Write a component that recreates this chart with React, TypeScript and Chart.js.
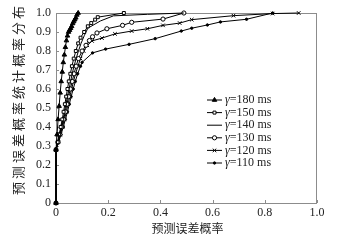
import React, { useEffect, useRef } from 'react';
import { Chart, registerables } from 'chart.js';
import { drawPoint } from 'chart.js/helpers';

Chart.register(...registerables);

const seriesNames = ['180', '150', '140', '130', '120', '110'];

const x180 = [0, 0, 0.004, 0.008, 0.012, 0.016, 0.02, 0.024, 0.028, 0.032, 0.036, 0.04, 0.044, 0.048, 0.052, 0.056, 0.06, 0.064, 0.068, 0.072, 0.076, 0.08, 0.085];
const y180 = [0, 0.28, 0.36, 0.44, 0.51, 0.58, 0.64, 0.69, 0.74, 0.78, 0.82, 0.855, 0.88, 0.9, 0.91, 0.92, 0.93, 0.945, 0.955, 0.965, 0.975, 0.99, 1.0];

const x150 = [0, 0, 0.006, 0.012, 0.018, 0.024, 0.029, 0.034, 0.039, 0.044, 0.049, 0.055, 0.061, 0.068, 0.076, 0.085, 0.094, 0.108, 0.122, 0.135, 0.15, 0.16, 0.26];
const y150 = [0, 0.28, 0.32, 0.36, 0.4, 0.44, 0.48, 0.52, 0.56, 0.6, 0.64, 0.68, 0.72, 0.76, 0.8, 0.84, 0.87, 0.9, 0.93, 0.947, 0.965, 0.978, 1.0];

const x140 = [0, 0, 0.007, 0.014, 0.02, 0.027, 0.033, 0.038, 0.044, 0.05, 0.056, 0.062, 0.069, 0.077, 0.086, 0.096, 0.108, 0.122, 0.17, 0.22, 0.35, 0.49];
const y140 = [0, 0.28, 0.32, 0.36, 0.4, 0.44, 0.48, 0.52, 0.56, 0.6, 0.64, 0.68, 0.72, 0.76, 0.8, 0.84, 0.88, 0.92, 0.958, 0.985, 0.993, 1.0];

const x130 = [0, 0, 0.008, 0.015, 0.022, 0.029, 0.036, 0.042, 0.048, 0.055, 0.062, 0.069, 0.077, 0.086, 0.1, 0.115, 0.128, 0.14, 0.157, 0.195, 0.255, 0.29, 0.41, 0.49];
const y130 = [0, 0.28, 0.32, 0.36, 0.4, 0.44, 0.48, 0.52, 0.56, 0.6, 0.64, 0.68, 0.72, 0.76, 0.8, 0.83, 0.855, 0.875, 0.895, 0.917, 0.935, 0.951, 0.968, 1.0];

const x120 = [0, 0, 0.009, 0.017, 0.025, 0.032, 0.04, 0.046, 0.053, 0.06, 0.067, 0.075, 0.084, 0.094, 0.106, 0.12, 0.138, 0.176, 0.226, 0.29, 0.35, 0.41, 0.474, 0.52, 0.68, 0.83, 0.93];
const y120 = [0, 0.28, 0.32, 0.36, 0.4, 0.44, 0.48, 0.52, 0.56, 0.6, 0.64, 0.68, 0.72, 0.76, 0.8, 0.83, 0.853, 0.868, 0.89, 0.905, 0.917, 0.935, 0.947, 0.965, 0.986, 0.997, 1.0];

const x110 = [0, 0, 0.01, 0.019, 0.028, 0.036, 0.044, 0.051, 0.058, 0.066, 0.074, 0.083, 0.094, 0.1, 0.14, 0.19, 0.28, 0.38, 0.48, 0.52, 0.58, 0.63, 0.73, 0.83];
const y110 = [0, 0.28, 0.32, 0.36, 0.4, 0.44, 0.48, 0.52, 0.56, 0.6, 0.64, 0.68, 0.72, 0.74, 0.79, 0.81, 0.835, 0.865, 0.905, 0.92, 0.937, 0.953, 0.967, 1.0];

const xTickLabels = ['0', '0.2', '0.4', '0.6', '0.8', '1.0'];
const yTickLabels = ['0', '0.1', '0.2', '0.3', '0.4', '0.5', '0.6', '0.7', '0.8', '0.9', '1.0'];

const xTitle = '预测误差概率';
const yTitle = '预测误差概率统计概率分布';

const seriesX = [x180, x150, x140, x130, x120, x110];
const seriesY = [y180, y150, y140, y130, y120, y110];

const markerStyles = [
  { pointStyle: 'triangle', pointRadius: 2.6, bg: '#000' },
  { pointStyle: 'rect', pointRadius: 2.1, bg: '#fff' },
  { pointStyle: 'circle', pointRadius: 0, bg: '#000' },
  { pointStyle: 'circle', pointRadius: 2.1, bg: '#fff' },
  { pointStyle: 'crossRot', pointRadius: 2.5, bg: '#000' },
  { pointStyle: 'circle', pointRadius: 1.2, bg: '#000' },
];

const TEXT = '#222';
const FRAME = '#8c8c8c';
const SERIF = '"Liberation Serif", "DejaVu Serif", serif';
const CJK = '"Noto Sans CJK SC", sans-serif';

const framePlugin = {
  id: 'frame',
  beforeDatasetsDraw(chart: any) {
    const { ctx, chartArea: a, scales } = chart;
    ctx.save();
    ctx.strokeStyle = FRAME;
    ctx.lineWidth = 1;
    ctx.strokeRect(a.left + 0.5, a.top + 0.5, a.right - a.left - 1, a.bottom - a.top);
    ctx.beginPath();
    scales.x.ticks.forEach((t: any) => {
      const px = Math.round(scales.x.getPixelForValue(t.value)) + 0.5;
      ctx.moveTo(px, a.bottom);
      ctx.lineTo(px, a.bottom - 3);
    });
    scales.y.ticks.forEach((t: any) => {
      const py = Math.round(scales.y.getPixelForValue(t.value)) + 0.5;
      ctx.moveTo(a.left, py);
      ctx.lineTo(a.left + 3, py);
    });
    ctx.stroke();
    ctx.restore();
  },
  afterDraw(chart: any) {
    const { ctx, chartArea: a } = chart;
    ctx.save();
    ctx.fillStyle = TEXT;
    ctx.font = `12px ${CJK}`;
    ctx.textAlign = 'center';
    ctx.textBaseline = 'middle';
    ctx.fillText(xTitle, (a.left + a.right) / 2 + 1, 228);
    ctx.save();
    ctx.translate(18, 99);
    ctx.rotate(-Math.PI / 2);
    ctx.font = `13px ${CJK}`;
    (ctx as any).letterSpacing = '3px';
    ctx.fillText(yTitle, 0, 0);
    ctx.restore();
    const lx0 = 207;
    const lx1 = 222;
    chart.data.datasets.forEach((ds: any, i: number) => {
      const y = 100 + i * 12.6;
      ctx.strokeStyle = '#000';
      ctx.lineWidth = 1;
      ctx.beginPath();
      ctx.moveTo(lx0, y);
      ctx.lineTo(lx1, y);
      ctx.stroke();
      if (ds.pointRadius > 0) {
        ctx.fillStyle = ds.pointBackgroundColor;
        ctx.strokeStyle = '#000';
        drawPoint(ctx, { pointStyle: ds.pointStyle, radius: ds.pointRadius, rotation: 0, borderWidth: 1 }, (lx0 + lx1) / 2, y);
      }
      ctx.fillStyle = TEXT;
      ctx.textAlign = 'left';
      ctx.textBaseline = 'middle';
      ctx.font = `italic 12px ${SERIF}`;
      ctx.fillText('γ', 225, y);
      const w = ctx.measureText('γ').width;
      ctx.font = `12px ${SERIF}`;
      ctx.fillText(`=${seriesNames[i]} ms`, 225 + w, y);
    });
    ctx.restore();
  },
};

export default function App() {
  const ref = useRef<HTMLCanvasElement | null>(null);
  useEffect(() => {
    if (!ref.current) return;
    const datasets = seriesNames.map((name, i) => ({
      label: `γ=${name} ms`,
      data: seriesX[i].map((x, k) => ({ x, y: seriesY[i][k] })),
      borderColor: '#000',
      borderWidth: 1,
      pointStyle: markerStyles[i].pointStyle,
      pointRadius: markerStyles[i].pointRadius,
      pointBackgroundColor: markerStyles[i].bg,
      pointBorderColor: '#000',
      pointBorderWidth: 1,
      tension: 0,
      clip: false,
    }));
    const chart = new Chart(ref.current, {
      type: 'line',
      data: { datasets },
      options: {
        animation: false,
        responsive: false,
        maintainAspectRatio: false,
        layout: { padding: { top: 13, right: 25, left: 0, bottom: 0 } },
        plugins: { legend: { display: false }, tooltip: { enabled: false } },
        scales: {
          x: {
            type: 'linear',
            min: 0,
            max: 1,
            grid: { display: false, drawTicks: false },
            border: { display: false },
            ticks: {
              stepSize: 0.2,
              padding: 3,
              color: TEXT,
              font: { family: SERIF, size: 12 },
              maxRotation: 0,
              callback: (_v: any, idx: number) => xTickLabels[idx],
            },
            afterFit: (s: any) => { s.height = 38; },
          },
          y: {
            type: 'linear',
            min: 0,
            max: 1,
            grid: { display: false, drawTicks: false },
            border: { display: false },
            ticks: {
              stepSize: 0.1,
              padding: 5,
              color: TEXT,
              font: { family: SERIF, size: 12 },
              callback: (_v: any, idx: number) => yTickLabels[idx],
            },
            afterFit: (s: any) => { s.width = 56; },
          },
        },
      },
      plugins: [framePlugin],
    } as any);
    return () => chart.destroy();
  }, []);
  return (
    <div style={{ position: 'fixed', left: 0, top: 0, width: 342, height: 241, background: '#fff' }}>
      <canvas ref={ref} width={342} height={241} />
    </div>
  );
}
